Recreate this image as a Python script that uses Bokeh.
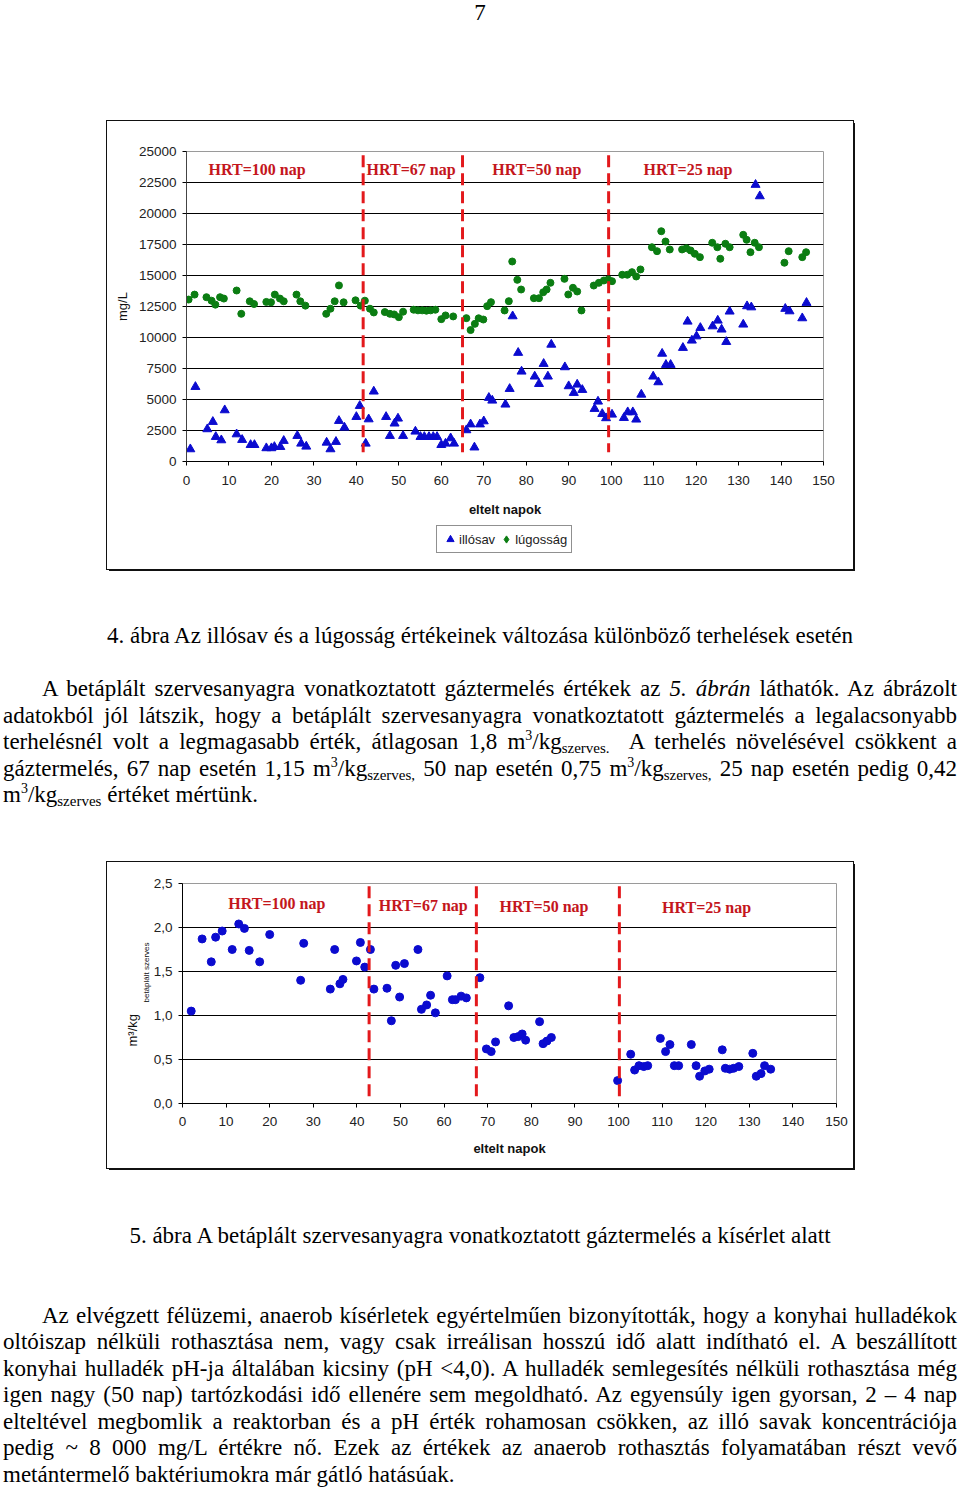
import math
from bokeh.plotting import figure
from bokeh.models import (Range1d, FixedTicker, Legend, LegendItem, Title, Div,
                          CustomJSTickFormatter)
from bokeh.layouts import column, row
from bokeh.core.properties import value
from bokeh.embed import file_html
from bokeh.resources import INLINE

SANS = "Liberation Sans"
SERIF = "Liberation Serif"

# ---------------- data: figure 4 ----------------
x_ticks = list(range(0, 151, 10))
y_ticks_1 = list(range(0, 25001, 2500))
hrt_labels = ["HRT=100 nap", "HRT=67 nap", "HRT=50 nap", "HRT=25 nap"]
legend_labels = ["illósav", "lúgosság"]

# illósav (volatile acids), mg/L
ill_day = [0.9, 2.1, 4.9, 6.2, 6.9, 8.2, 9.0, 11.8, 13.1, 15.1, 16.0, 18.8, 20.0, 20.7,
           22.1, 22.9, 26.1, 27.0, 28.2, 33.0, 33.9, 35.2, 35.9, 37.2, 40.0, 40.8, 42.2,
           42.9, 44.1, 47.0, 47.9, 49.0, 49.8, 51.0, 53.9, 55.1, 56.0, 57.1, 58.1, 59.0,
           60.0, 61.0, 62.2, 63.0, 65.9, 66.9, 67.8, 69.1, 70.0, 71.2, 72.0, 75.1, 76.1,
           76.8, 78.1, 78.9, 82.0, 83.0, 84.1, 85.1, 85.9, 89.1, 90.0, 91.2, 92.0, 93.2,
           96.1, 96.9, 97.9, 98.8, 100.2, 103.0, 103.9, 105.1, 105.9, 107.1, 109.9, 111.1,
           112.0, 112.9, 114.0, 116.9, 118.0, 119.0, 120.1, 121.0, 123.9, 125.1, 126.0,
           127.1, 127.9, 131.1, 132.0, 133.0, 134.0, 135.0, 141.0, 142.0, 145.0, 146.0]
ill_val = [995, 6020, 2610, 3200, 1990, 1720, 4140, 2200, 1750, 1340, 1340, 1080, 1080, 1180,
           1180, 1670, 2070, 1450, 1210, 1530, 995, 1590, 3280, 2740, 3600, 4490, 1450,
           3410, 5650, 3600, 2070, 3070, 3470, 2070, 2420, 1990, 1990, 1990, 1990, 1990,
           1340, 1450, 1880, 1450, 2530, 3000, 1140, 3000, 3250, 5140, 4920, 4600, 5860,
           11720, 8770, 7260, 6860, 6260, 7880, 6860, 9430, 7610, 6080, 5540, 6210, 5780,
           4250, 4840, 3840, 3500, 3790, 3520, 3980, 3980, 3390, 5400, 6860, 6400,
           8700, 7800, 7800, 9170, 11290, 9760, 10100, 10780, 10910, 11370, 10650,
           9650, 12100, 11050, 12530, 12440, 22320, 21400, 12320, 12120, 11560, 12800]

# lúgosság (alkalinity), mg/L
lug_day = [0.5, 1.9, 4.7, 5.9, 6.8, 7.9, 8.8, 11.8, 12.9, 14.9,
           15.9, 18.8, 19.9, 20.8, 22.0, 22.9, 25.9, 26.8, 28.0, 32.9,
           33.9, 34.9, 35.9, 37.0, 39.8, 41.0, 42.0, 43.2, 44.1, 46.7,
           47.9, 48.9, 50.0, 51.0, 53.5, 54.5, 55.5, 56.5, 57.5, 58.6,
           60.0, 61.0, 62.8, 65.9, 66.9, 67.9, 68.8, 69.9, 70.8, 71.7,
           74.9, 75.9, 76.7, 77.9, 78.8, 81.8, 83.0, 84.0, 84.8, 85.7,
           89.0, 89.9, 91.0, 92.0, 93.0, 95.9, 97.1, 98.3, 99.3, 100.2,
           102.6, 103.8, 104.9, 105.9, 106.9, 109.6, 110.8, 111.8, 112.8, 113.8,
           116.7, 117.7, 118.7, 119.7, 120.9, 123.8, 125.0, 125.7, 126.9, 127.9,
           131.1, 131.9, 132.8, 133.8, 134.8, 140.8, 141.8, 145.0, 145.9]
lug_val = [13060, 13460, 13250, 12970, 12650, 13250, 13140, 13790, 11910, 12920,
           12700, 12870, 12840, 13460, 13140, 12920, 13460, 12920, 12570, 11910,
           12320, 12920, 14200, 12840, 13000, 12570, 12970, 12320, 12020, 12050,
           11910, 11860, 11640, 12080, 12240, 12190, 12190, 12160, 12190, 12240,
           11480, 11780, 11700, 11560, 10600, 11100, 11550, 11450, 12530, 12850,
           12180, 12930, 16130, 14650, 13870, 13170, 13170, 13650, 13870, 14410,
           14730, 13470, 14010, 13710, 12180, 14190, 14410, 14600, 14680, 14540,
           15060, 15060, 15270, 14920, 15490, 17280, 16960, 18570, 17740, 17100,
           17100, 17200, 17020, 16750, 16480, 17640, 17280, 16350, 17560, 17280,
           18280, 17880, 16880, 17640, 17280, 16030, 16960, 16480, 16880]

hrt_change_1 = [41.6, 65.0, 99.4]
hrt_dash_top_1 = [24700, 24700, 24700]
hrt_dash_bot_1 = [750, 750, 750]
hrt_label_x_1 = [5.2, 42.4, 72.0, 107.6]
hrt_label_y_1 = [23530, 23530, 23530, 23530]

# ---------------- data: figure 5 ----------------
y_ticks_2 = [0.0, 0.5, 1.0, 1.5, 2.0, 2.5]
gas_day = [2.0, 4.5, 6.6, 7.6, 9.1, 11.4, 12.9, 14.2, 15.3, 17.7, 20.0, 27.1, 27.8,
           33.9, 34.9, 36.1, 36.8, 39.9, 40.8, 41.8, 43.1, 43.9, 46.9, 47.9, 48.9,
           49.8, 50.9, 54.0, 54.8, 56.0, 56.9, 58.0, 60.7, 61.9, 62.6, 63.9, 65.1,
           68.2, 69.7, 70.8, 71.8, 74.8, 76.0, 77.0, 77.9, 78.7, 81.9, 82.7, 83.6,
           84.6, 99.8, 102.8, 103.7, 104.7, 105.8, 106.7, 109.6, 110.8, 111.8, 112.8,
           113.8, 116.7, 117.8, 118.6, 119.8, 120.8, 123.8, 124.5, 125.5, 126.4,
           127.6, 130.8, 131.6, 132.7, 133.5, 134.9]
gas_val = [1.05, 1.87, 1.61, 1.89, 1.96, 1.75, 2.04, 1.99, 1.74, 1.61, 1.92, 1.40, 1.82,
           1.30, 1.75, 1.36, 1.41, 1.62, 1.83, 1.55, 1.75, 1.30, 1.31, 0.94, 1.57,
           1.21, 1.59, 1.75, 1.07, 1.12, 1.23, 1.03, 1.45, 1.18, 1.18, 1.22, 1.20,
           1.43, 0.62, 0.59, 0.70, 1.11, 0.75, 0.76, 0.79, 0.72, 0.93, 0.68, 0.71,
           0.75, 0.26, 0.56, 0.38, 0.43, 0.42, 0.43, 0.74, 0.59, 0.67, 0.43,
           0.43, 0.67, 0.43, 0.31, 0.37, 0.39, 0.61, 0.40, 0.39, 0.40,
           0.42, 0.57, 0.31, 0.34, 0.43, 0.39]

hrt_change_2 = [42.8, 67.4, 100.2]
hrt_dash_top_2 = [2.47, 2.47, 2.47]
hrt_dash_bot_2 = [0.08, 0.08, 0.08]
hrt_label_x_2 = [10.5, 45.0, 72.7, 110.0]
hrt_label_y_2 = [2.27, 2.245, 2.235, 2.23]

RED_LINE = "#e3191c"
RED_TEXT = "#c4161c"
BLUE = "#0b0bcf"
GREEN = "#0b7d12"
BOX_STYLE = {"outline": "1px solid #111", "box-shadow": "2px 2px 0 #111"}


def style_axes(p, label_size="13.5px"):
    for ax in (p.xaxis[0], p.yaxis[0]):
        ax.major_label_text_font = SANS
        ax.major_label_text_font_size = label_size
        ax.major_label_text_color = "#222222"
        ax.minor_tick_line_color = None
        ax.major_tick_in = 0
        ax.major_tick_out = 4
        ax.major_label_standoff = 6
        ax.axis_label_text_font = SANS
        ax.axis_label_text_font_style = "normal"
        ax.axis_label_text_font_size = "13px"
        ax.axis_label_text_color = "#111111"


# ---------------- figure 4 ----------------
p1 = figure(width=746, height=402, x_range=Range1d(0, 150), y_range=Range1d(0, 25000),
            output_backend="svg", toolbar_location=None,
            min_border_left=79, min_border_right=30, min_border_top=30, min_border_bottom=62,
            background_fill_color="white", border_fill_color="white",
            outline_line_color="#9a9a9a")
p1.xaxis.ticker = FixedTicker(ticks=x_ticks)
p1.yaxis.ticker = FixedTicker(ticks=y_ticks_1)
p1.xgrid.visible = False
p1.ygrid.ticker = FixedTicker(ticks=y_ticks_1)
p1.ygrid.grid_line_color = "black"
p1.ygrid.grid_line_width = 1.2
style_axes(p1)
p1.xaxis.axis_line_color = "black"
p1.yaxis.axis_line_color = "#444444"
p1.xaxis.major_label_standoff = 10
p1.xaxis.axis_label = "eltelt napok"
p1.xaxis.axis_label_text_font_style = "bold"
p1.xaxis.axis_label_standoff = 14
p1.yaxis.axis_label = "mg/L"
p1.yaxis.axis_label_standoff = 6

p1.scatter(lug_day, lug_val, marker="circle", size=7, color=GREEN)
p1.scatter(ill_day, ill_val, marker="triangle", size=9, color=BLUE)
p1.segment(x0=hrt_change_1, y0=hrt_dash_top_1, x1=hrt_change_1, y1=hrt_dash_bot_1,
           line_color=RED_LINE, line_width=3, line_dash="12 6")
p1.text(x=hrt_label_x_1, y=hrt_label_y_1, text=hrt_labels, text_font=value(SERIF),
        text_font_style="bold", text_font_size="16px", text_color=RED_TEXT,
        text_baseline="middle", text_align="left")

# legend strip (bottom part of the figure-4 chart box); the key renderers reuse the
# series data, which lies entirely outside this strip's ranges, so only the legend shows
pl = figure(width=746, height=46, x_range=Range1d(0, 1), y_range=Range1d(-1, 0),
            output_backend="svg", toolbar_location=None,
            x_axis_location=None, y_axis_location=None,
            min_border_left=79, min_border_right=30, min_border_top=0, min_border_bottom=0,
            background_fill_color="white", border_fill_color="white", outline_line_color=None)
pl.grid.visible = False
key_ill = pl.scatter(ill_day, ill_val, marker="triangle", size=9, color=BLUE)
key_lug = pl.scatter(lug_day, lug_val, marker="diamond", size=10, color=GREEN)
leg = Legend(items=[LegendItem(label=legend_labels[0], renderers=[key_ill]),
                    LegendItem(label=legend_labels[1], renderers=[key_lug])],
             orientation="horizontal", location=(250, 16),
             border_line_color="#222222", border_line_width=1,
             padding=4, spacing=2, label_standoff=0, glyph_width=18, glyph_height=18,
             label_height=18, label_text_font=SANS, label_text_font_size="13px",
             label_text_color="#222222", margin=0, background_fill_color="white")
pl.add_layout(leg)

chart1 = column(p1, pl, spacing=0, margin=(0, 0, 0, 107), styles=BOX_STYLE)

# ---------------- figure 5 ----------------
p2 = figure(width=746, height=306, x_range=Range1d(0, 150), y_range=Range1d(0, 2.5),
            output_backend="svg", toolbar_location=None,
            min_border_left=75, min_border_right=17, min_border_top=21, min_border_bottom=65,
            background_fill_color="white", border_fill_color="white",
            outline_line_color="#9a9a9a")
p2.xaxis.ticker = FixedTicker(ticks=x_ticks)
p2.yaxis.ticker = FixedTicker(ticks=y_ticks_2)
p2.yaxis.formatter = CustomJSTickFormatter(code="return tick.toFixed(1).replace('.', ',');")
p2.xgrid.visible = False
p2.ygrid.ticker = FixedTicker(ticks=y_ticks_2)
p2.ygrid.grid_line_color = "black"
p2.ygrid.grid_line_width = 1.2
style_axes(p2)
p2.xaxis.axis_line_color = "black"
p2.yaxis.axis_line_color = "black"
p2.xaxis.major_label_standoff = 9
p2.xaxis.axis_label = "eltelt napok"
p2.xaxis.axis_label_text_font_style = "bold"
p2.xaxis.axis_label_standoff = 12

p2.scatter(gas_day, gas_val, marker="circle", size=8, color=BLUE)
p2.segment(x0=hrt_change_2, y0=hrt_dash_top_2, x1=hrt_change_2, y1=hrt_dash_bot_2,
           line_color=RED_LINE, line_width=3, line_dash="12 6")
p2.text(x=hrt_label_x_2, y=hrt_label_y_2, text=hrt_labels, text_font=value(SERIF),
        text_font_style="bold", text_font_size="16px", text_color=RED_TEXT,
        text_baseline="middle", text_align="left")

# y axis label "m³/kg" with small subscript "betáplált szerves"
p2.add_layout(Title(text="betáplált szerves", align="left", offset=101, standoff=0,
                    vertical_align="bottom", text_font=SANS, text_font_size="8px",
                    text_font_style="normal", text_color="#111111"), "left")
p2.add_layout(Title(text="m³/kg", align="left", offset=57, standoff=0,
                    vertical_align="bottom", text_font=SANS, text_font_size="13px",
                    text_font_style="normal", text_color="#111111"), "left")

chart2 = row(p2, spacing=0, margin=(0, 0, 0, 107), styles=BOX_STYLE)

# ---------------- text blocks ----------------
BASE = ("font-family:'Liberation Serif','Times New Roman',serif;font-size:23px;"
        "line-height:26.5px;color:#000;width:954px;margin-left:3px;")
J = "text-align:justify;text-align-last:justify;"
SUP = "<sup style='font-size:14px;line-height:0;vertical-align:9px'>3</sup>"


def sub(t):
    return "<sub style='font-size:15px;line-height:0;vertical-align:-4px'>" + t + "</sub>"


div_top = Div(width=960, height=121, margin=0, text=(
    "<div style=\"" + BASE + "line-height:18px;margin-top:4px;text-align:center;\">7</div>"))

para1 = [
    "A betáplált szervesanyagra vonatkoztatott gáztermelés értékek az <i>5. ábrán</i> láthatók. Az ábrázolt",
    "adatokból jól látszik, hogy a betáplált szervesanyagra vonatkoztatott gáztermelés a legalacsonyabb",
    "terhelésnél volt a legmagasabb érték, átlagosan 1,8 m" + SUP + "/kg" + sub("szerves.") +
    "&nbsp; A terhelés növelésével csökkent a",
    "gáztermelés, 67 nap esetén 1,15 m" + SUP + "/kg" + sub("szerves,") + " 50 nap esetén 0,75 m" +
    SUP + "/kg" + sub("szerves,") + " 25 nap esetén pedig 0,42",
    "m" + SUP + "/kg" + sub("szerves") + " értéket mértünk.",
]
para2 = [
    "Az elvégzett félüzemi, anaerob kísérletek egyértelműen bizonyították, hogy a konyhai hulladékok",
    "oltóiszap nélküli rothasztása nem, vagy csak irreálisan hosszú idő alatt indítható el. A beszállított",
    "konyhai hulladék pH-ja általában kicsiny (pH &lt;4,0). A hulladék semlegesítés nélküli rothasztása még",
    "igen nagy (50 nap) tartózkodási idő ellenére sem megoldható. Az egyensúly igen gyorsan, 2 – 4 nap",
    "elteltével megbomlik a reaktorban és a pH érték rohamosan csökken, az illó savak koncentrációja",
    "pedig ~ 8&nbsp;000 mg/L értékre nő. Ezek az értékek az anaerob rothasztás folyamatában részt vevő",
    "metántermelő baktériumokra már gátló hatásúak.",
]


def paragraph(lines, gap):
    out = []
    for i, ln in enumerate(lines):
        st = J if i < len(lines) - 1 else "text-align:left;"
        if i == 0:
            st += "text-indent:39px;margin-top:%spx;" % gap
        out.append("<div style=\"" + st + "\">" + ln + "</div>")
    return "".join(out)


caption1 = "4. ábra Az illósav és a lúgosság értékeinek változása különböző terhelések esetén"
caption2 = "5. ábra A betáplált szervesanyagra vonatkoztatott gáztermelés a kísérlet alatt"

div_mid = Div(width=960, height=293, margin=0, text=(
    "<div style=\"" + BASE + "padding-top:54px;\">"
    "<div style=\"text-align:center;\">" + caption1 + "</div>" +
    paragraph(para1, 26.5) + "</div>"))

div_bot = Div(width=960, height=320, margin=0, text=(
    "<div style=\"" + BASE + "padding-top:55px;\">"
    "<div style=\"text-align:center;\">" + caption2 + "</div>" +
    paragraph(para2, 53) + "</div>"))

layout = column(div_top, chart1, div_mid, chart2, div_bot, spacing=0)

open("out.html", "w").write(file_html(layout, INLINE))
